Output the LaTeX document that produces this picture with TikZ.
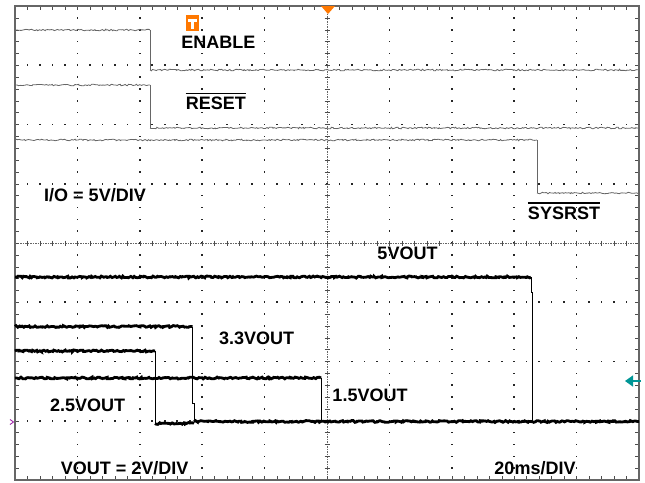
\documentclass[tikz,border=0pt]{standalone}
\usepackage{fontspec}
\setmainfont{Liberation Sans}
\usetikzlibrary{decorations.pathmorphing,arrows.meta}
\definecolor{trigorange}{RGB}{255,120,0}
\definecolor{refteal}{RGB}{0,150,150}
\definecolor{gndpurple}{RGB}{160,40,170}

\begin{document}
\begin{tikzpicture}[x=1pt, y=-1pt,
    lbl/.style={font=\fontsize{18}{20}\selectfont\bfseries, inner sep=0pt, anchor=base},
    logic/.style={draw=black!60, line width=0.8pt, decorate,
      decoration={random steps, segment length=1.5pt, amplitude=0.8pt}},
    rail/.style={draw=black, line width=2.8pt, decorate,
      decoration={random steps, segment length=1.5pt, amplitude=0.9pt}},
    fall/.style={draw=black, line width=1pt},
    gdot/.style={fill=black!85}]
    \useasboundingbox (0,0) rectangle (645,482);
    \fill[white] (0,0) rectangle (645,482);
    \pgfmathsetseed{11}

    % graticule
    \foreach \k in {1,2,3,5,6,7}
      \foreach \i in {1,...,49}
        \fill[gdot] ({14.2+12.48*\i},{5.2+59.25*\k}) rectangle ++(1.6,1.6);
    \foreach \j in {1,2,3,4,6,7,8,9}
      \foreach \i in {1,...,39}
        \fill[gdot] ({14.2+62.4*\j},{5.2+11.85*\i}) rectangle ++(1.6,1.6);
    \draw[black!60, dash pattern=on 1.5pt off 1pt] (15,243) -- (639,243);
    \draw[black!60, dash pattern=on 1.5pt off 1pt] (327,6) -- (327,480);
    \foreach \i in {1,...,49} {
      \draw[black!70] ({15+12.48*\i},240.5) -- ++(0,5);
      \draw[black!70] ({15+12.48*\i},6) -- ++(0,4);
      \draw[black!70] ({15+12.48*\i},480) -- ++(0,-4);
    }
    \foreach \i in {1,...,39} {
      \draw[black!70] (324.5,{6+11.85*\i}) -- ++(5,0);
      \draw[black!70] (15,{6+11.85*\i}) -- ++(4,0);
      \draw[black!70] (639,{6+11.85*\i}) -- ++(-4,0);
    }
    \draw[black!60, line width=1.4pt] (15,6) rectangle (639,480);

    % I/O traces
    \draw[logic] (15,30) -- (150,30);
    \draw[black!60, line width=0.8pt] (150,30) -- (150,70);
    \draw[logic] (150,70) -- (639,70);
    \draw[logic] (15,85) -- (150,85);
    \draw[black!60, line width=0.8pt] (150,85) -- (150,128);
    \draw[logic] (150,128) -- (639,128);
    \draw[logic] (15,140) -- (537,140);
    \draw[black!60, line width=0.8pt] (537,140) -- (537,193);
    \draw[logic] (537,193) -- (639,193);

    % supply rails
    \draw[rail] (15,277) -- (531,277);
    \draw[fall] (531,277) -- (531,292) -- (532,292) -- (532,422);
    \draw[rail] (15,326.5) -- (192.5,326.5);
    \draw[fall] (192.5,326.5) -- (192.5,403) -- (194,403) -- (194,421);
    \draw[rail] (15,351) -- (155,351);
    \draw[fall] (155,351) -- (155,423);
    \draw[rail] (15,378) -- (321,378);
    \draw[fall] (321,378) -- (321,422);
    \draw[rail] (155,423.5) -- (194,423.5);
    \draw[rail] (194,421.5) -- (639,421.5);

    % markers
    \fill[trigorange] (321,6) -- (335,6) -- (328,14) -- cycle;
    \fill[trigorange] (186,15) rectangle (199,31);
    \fill[white] (188,19) rectangle (197,21.5);
    \fill[white] (191.3,21.5) rectangle (193.7,29);
    \draw[refteal, line width=1.4pt, -{Triangle[length=8pt,width=11pt]}] (641,381) -- (625,381);
    \draw[gndpurple, line width=0.9pt] (10,419.5) -- (13.5,422) -- (10,424.5);

    % labels
    \node[lbl] (en) at (218.3,48.3) {ENABLE};
    \node[lbl] (rst) at (215.8,109.3) {RESET};
    \draw[line width=1.2pt] ([yshift=3pt]rst.north west) -- ([yshift=3pt]rst.north east);
    \node[lbl] (sysrst) at (564,219.3) {SYSRST};
    \draw[line width=1.2pt] ([yshift=3.5pt]sysrst.north west) -- ([yshift=3.5pt]sysrst.north east);
    \node[lbl] (io) at (95,201.7) {I/O = 5V/DIV};
    \node[lbl] (v5) at (407.5,259.3) {5VOUT};
    \node[lbl] (v33) at (256.7,344.3) {3.3VOUT};
    \node[lbl] (v25) at (87.7,411) {2.5VOUT};
    \node[lbl] (v15) at (370,401.7) {1.5VOUT};
    \node[lbl] (vdiv) at (124.7,474.3) {VOUT = 2V/DIV};
    \node[lbl] (tdiv) at (535,474.5) {20ms/DIV};
\end{tikzpicture}
\end{document}
